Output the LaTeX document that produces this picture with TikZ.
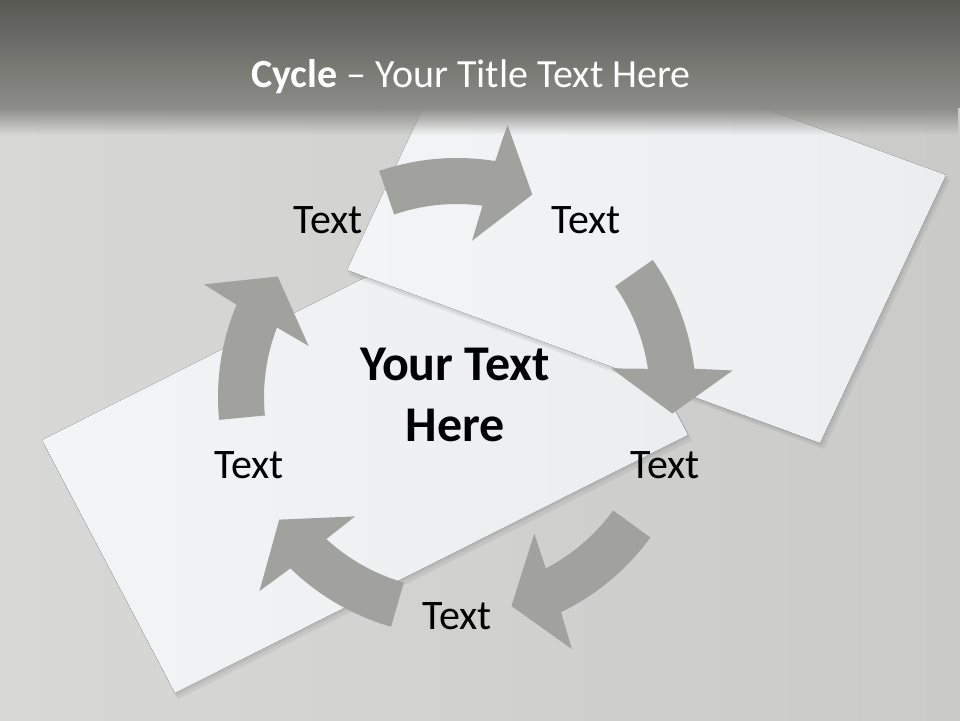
\documentclass[tikz,border=0pt]{standalone}
\usepackage{fontspec}
\setmainfont{Carlito}
\usetikzlibrary{fadings}
\definecolor{bartop}{HTML}{585953}
\definecolor{barlow}{HTML}{8C8D88}
\definecolor{bgleft}{HTML}{D8D8D6}
\definecolor{bgright}{HTML}{CACAC8}
\definecolor{paperlight}{HTML}{F3F4F5}
\definecolor{paperdark}{HTML}{ECEDEE}
\definecolor{arrowgray}{HTML}{A1A29E}
\tikzset{
  % Paper card
  card/.style={left color=paperlight, right color=paperdark},
  % Card shadow
  cardshadow/.style={fill=black, opacity=0.06},
  % Cycle arrow
  cycarrow/.style={fill=arrowgray},
  % Cycle step text
  cyctext/.style={inner sep=0pt, font=\fontsize{42}{48}\selectfont},
  % Centre text
  hubtext/.style={inner sep=0pt, align=center,
    font=\fontsize{50}{61}\selectfont\bfseries},
  % Title text
  titletext/.style={inner sep=0pt, text=white,
    font=\fontsize{40}{46}\selectfont},
}
% curved arrow, turned by #1 round the centre c
\newcommand\cyclearrow[1]{%
  \fill[cycarrow, shift={(c)}, rotate=#1]
    (20:239) arc[start angle=20, end angle=-8.2, radius=239]
    -- (-9.5:277) -- (-19.4:216) -- (-4.5:157) -- (-6.6:193)
    arc[start angle=-6.6, end angle=20, radius=193] -- cycle;}

\begin{document}
\begin{tikzpicture}[x=1pt, y=1pt]
  \useasboundingbox (0,0) rectangle (960,720);
  \fill[left color=bgleft, right color=bgright] (0,0) rectangle (960,720);

  % lower card
  \fill[cardshadow] (45,274) -- (558,532) -- (692,280) -- (178,21) -- cycle;
  \fill[cardshadow] (43,277) -- (556,535) -- (690,283) -- (176,24) -- cycle;
  \fill[card] (42,280) -- (555,538) -- (688,285) -- (175,27) -- cycle;
  % upper card
  \fill[cardshadow] (476,713) -- (950,540) -- (824,271) -- (350,444) -- cycle;
  \fill[cardshadow] (474,716) -- (948,543) -- (822,274) -- (348,447) -- cycle;
  \fill[card] (473,718) -- (946,545) -- (820,277) -- (347,450) -- cycle;

  % title bar
  \shade[top color=bartop, bottom color=barlow] (0,612) rectangle (960,720);
  \fill[barlow, path fading=south] (0,585) rectangle (960,612);
  \node[titletext, anchor=base] (title) at (471,632)
    {\textbf{Cycle} – Your Title Text Here};

  \coordinate (c) at (457,323);
  \cyclearrow{89}
  \cyclearrow{15}
  \cyclearrow{-56}
  \cyclearrow{234}
  \cyclearrow{165.5}

  \node[hubtext] (hub) at (455,325) {Your Text\\Here};
  \node[cyctext] (t1) at (328,500) {Text};
  \node[cyctext] (t2) at (586,500) {Text};
  \node[cyctext] (t3) at (665,255) {Text};
  \node[cyctext] (t4) at (457,104) {Text};
  \node[cyctext] (t5) at (249,255) {Text};
\end{tikzpicture}
\end{document}
